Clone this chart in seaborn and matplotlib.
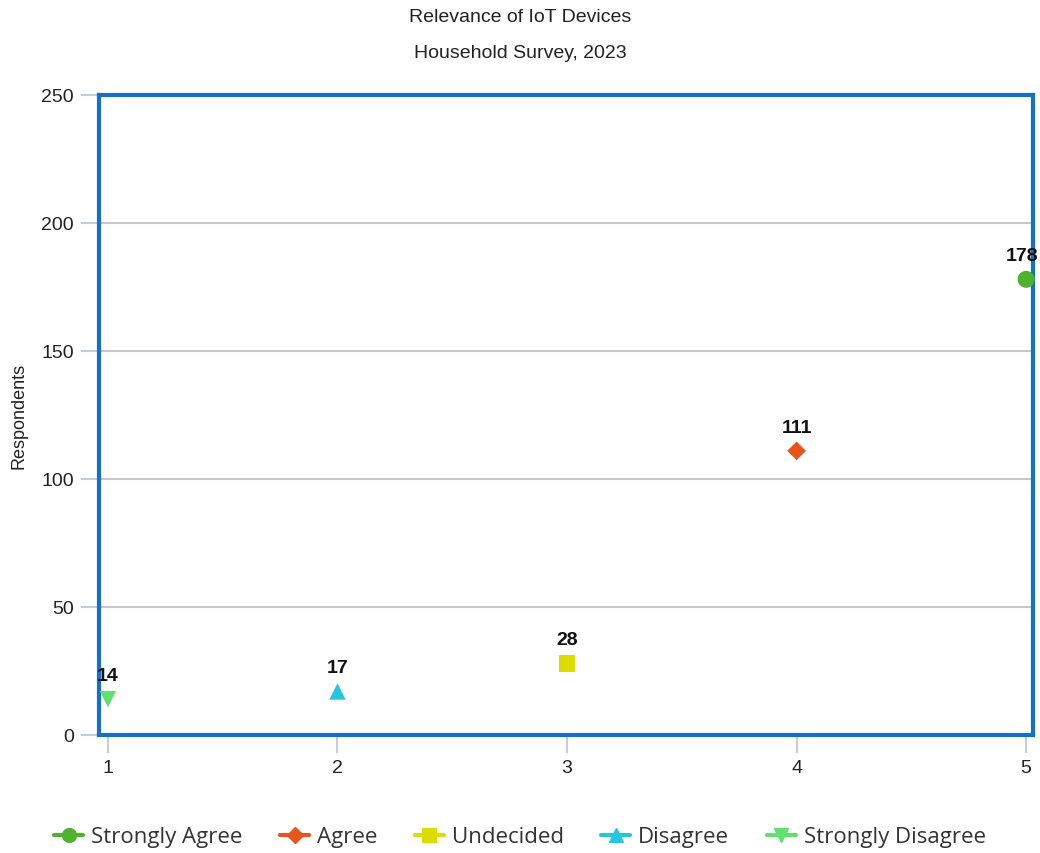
import matplotlib
matplotlib.use("Agg")
import matplotlib.pyplot as plt
from matplotlib.lines import Line2D
import seaborn as sns
import pandas as pd

categories = ["Strongly Agree", "Agree", "Undecided", "Disagree", "Strongly Disagree"]
x_values = [5, 4, 3, 2, 1]
respondents = [178, 111, 28, 17, 14]
colors = ["#4fb22f", "#e8541c", "#dcdc00", "#24c6e2", "#5fe26c"]
markers = ["o", "D", "s", "^", "v"]
marker_sizes = [150, 90, 140, 140, 140]

sns.set_theme(style="white")
plt.rcParams['font.family'] = ['Liberation Sans', 'DejaVu Sans']

df = pd.DataFrame({"Category": categories, "x": x_values, "y": respondents})

fig = plt.figure(figsize=(10.4, 8.54), dpi=100)
ax = fig.add_axes([99/1040, 1-736/854, (1033-99)/1040, (736-96)/854])

for cat, c, m, s in zip(categories, colors, markers, marker_sizes):
    sub = df[df["Category"] == cat]
    sns.scatterplot(data=sub, x="x", y="y", color=c, marker=m, s=s,
                    edgecolor="none", ax=ax, legend=False, zorder=4, clip_on=False)

for xv, yv in zip(x_values, respondents):
    dx = -3 if xv == 5 else 0
    ax.annotate(str(yv), (xv, yv), xytext=(dx, 11), textcoords="offset points",
                ha="center", va="bottom", fontsize=14, fontweight="bold",
                color="#111111", zorder=5)

ax.set_xlim(0.961, 5.03)
ax.set_ylim(0, 250)
ax.set_xticks([1, 2, 3, 4, 5])
ax.set_yticks([0, 50, 100, 150, 200, 250])
ax.set_xticklabels(["1", "2", "3", "4", "5"], fontsize=14, color="#222222")
ax.set_yticklabels(["0", "50", "100", "150", "200", "250"], fontsize=14, color="#222222")
ax.yaxis.grid(True, color="#c8c8c8", linewidth=1.5)
ax.set_axisbelow(True)
ax.tick_params(axis="both", which="both", length=13, width=1.5, color="#c0cfe0",
               direction="out", pad=5, left=True, bottom=True)
ax.tick_params(axis="x", pad=4)
for sp in ax.spines.values():
    sp.set_visible(True)
    sp.set_color("#1470c8")
    sp.set_linewidth(3)

ax.set_xlabel("")
ax.set_ylabel("Respondents", fontsize=13, color="#222222")
ax.yaxis.set_label_coords(-0.077, 0.5)

fig.text(0.5, 1-18/854, "Relevance of IoT Devices", ha="center", va="center",
         fontsize=14, color="#222222")
fig.text(0.5, 1-54/854, "Household Survey, 2023", ha="center", va="center",
         fontsize=14, color="#222222")

handles = [Line2D([0], [0], color=c, marker=m, markersize=10 if m != "D" else 8,
                  linewidth=3, markeredgecolor=c) for c, m in zip(colors, markers)]
fig.legend(handles, categories, loc="center", bbox_to_anchor=(0.5, 1-838/854),
           ncol=5, frameon=False, handlelength=1.3, columnspacing=1.7,
           handletextpad=0.35, prop={'family': ['Open Sans', 'DejaVu Sans'], 'size': 16},
           labelcolor="#333333")

fig.savefig("out.png", dpi=100)
